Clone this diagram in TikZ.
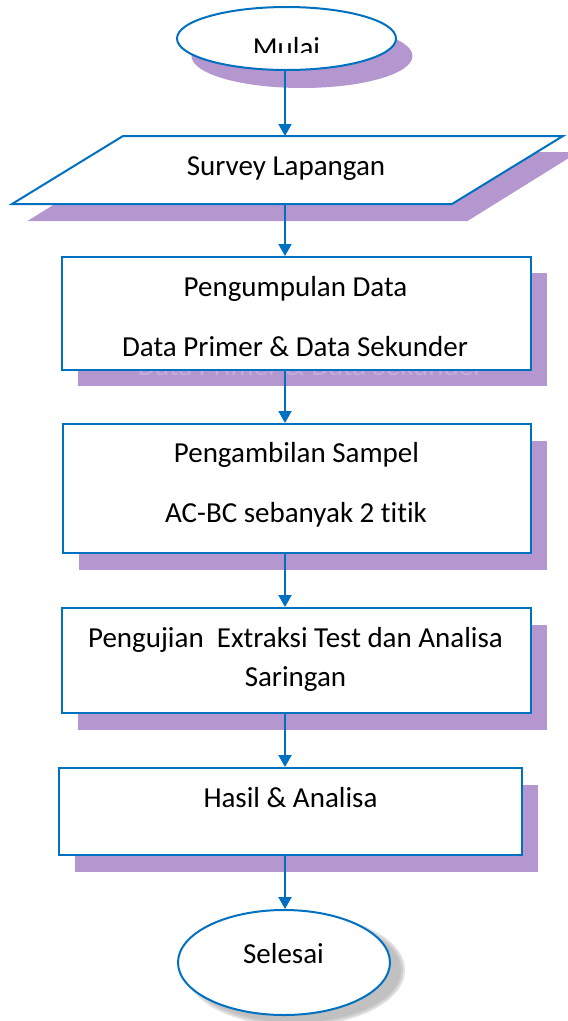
\documentclass[tikz,border=0pt]{standalone}
\usepackage{fontspec}
\setmainfont{Carlito}[Ligatures=NoCommon]
\usetikzlibrary{shapes.geometric,arrows.meta}
\definecolor{flowblue}{RGB}{0,112,192}
\definecolor{shadowpurple}{RGB}{180,151,207}
\definecolor{ghosttext}{RGB}{198,170,226}
\definecolor{softgray}{RGB}{165,165,165}
\tikzset{
  boxstyle/.style={rectangle, draw=flowblue, line width=2pt, fill=white, inner sep=0pt},
  ovalstyle/.style={ellipse, draw=flowblue, line width=2pt, fill=white, inner sep=0pt},
  shadowbox/.style={rectangle, fill=shadowpurple, draw=none, inner sep=0pt},
  txt/.style={font=\fontsize{29}{35}\selectfont, anchor=base, inner sep=0pt, text=black},
  arr/.style={draw=flowblue, line width=2pt, -{Triangle[width=13pt,length=12pt]}},
}
\begin{document}
\begin{tikzpicture}[x=1pt,y=-1pt]
\useasboundingbox (0,0) rectangle (568,1021);
\coordinate (axis) at (285,0);

% ---------- shadows ----------
\node[ellipse, fill=shadowpurple, inner sep=0pt, minimum width=221pt, minimum height=64pt] (mulaishadow) at (302,56) {};
\fill[shadowpurple] (138.5,152) -- (578.5,152) -- (467.5,221) -- (27.5,221) -- cycle;
\node[shadowbox, minimum width=469pt, minimum height=113pt] (box1shadow) at (312.5,329.5) {};
\begin{scope}
  \clip (60,371) rectangle (560,390);
  \node[txt, text=ghosttext] (ghost) at (310.5,375) {Data Primer \& Data Sekunder};
\end{scope}
\node[shadowbox, minimum width=468pt, minimum height=129pt] (box2shadow) at (313,505) {};
\node[shadowbox, minimum width=469pt, minimum height=105pt] (box3shadow) at (312.5,677) {};
\node[shadowbox, minimum width=463pt, minimum height=87pt] (box4shadow) at (306,828) {};
\foreach \d in {4,2,0}{
  \fill[softgray, opacity=0.33] (295,970) ellipse [x radius={106pt+\d pt}, y radius={52.5pt+\d pt}];
}

% ---------- shapes ----------
\node[ovalstyle, minimum width=219pt, minimum height=63pt] (mulai) at (286.5,38.5) {};
\begin{scope}
  \clip (150,0) rectangle (420,52);
  \node[txt] (mulaitext) at (286.5,57) {Mulai};
\end{scope}

\node[rectangle, draw=none, inner sep=0pt, outer sep=0pt, minimum width=440pt, minimum height=68pt] (survey) at (287.5,170) {};
\filldraw[draw=flowblue, fill=white, line width=2pt, line join=miter]
  ([xshift=55.5pt]survey.north west) -- ([xshift=55.5pt]survey.north east)
  -- ([xshift=-55.5pt]survey.south east) -- ([xshift=-55.5pt]survey.south west) -- cycle;
\node[txt] (surveytext) at (286,175) {Survey Lapangan};

\node[boxstyle, minimum width=469pt, minimum height=113pt] (box1) at (296.5,313.5) {};
\node[txt] (box1a) at (295.5,296) {Pengumpulan Data};
\node[txt] (box1b) at (295,356) {Data Primer \& Data Sekunder};

\node[boxstyle, minimum width=468pt, minimum height=129pt] (box2) at (297,488.5) {};
\node[txt] (box2a) at (296.5,462) {Pengambilan Sampel};
\node[txt] (box2b) at (296,522) {AC-BC sebanyak 2 titik};

\node[boxstyle, minimum width=469pt, minimum height=105pt] (box3) at (296.5,660.5) {};
\node[txt] (box3a) at (295.5,647) {Pengujian\ \ Extraksi Test dan Analisa};
\node[txt] (box3b) at (295.5,686) {Saringan};

\node[boxstyle, minimum width=463pt, minimum height=87pt] (box4) at (290.5,811.5) {};
\node[txt] (box4a) at (290.5,807) {Hasil \& Analisa};

\node[ovalstyle, minimum width=212pt, minimum height=105pt] (selesai) at (284,962.5) {};
\node[txt] (selesaitext) at (283.5,963) {Selesai};

% ---------- connectors ----------
\draw[arr] (mulai.south -| axis) -- (survey.north -| axis);
\draw[arr] (survey.south -| axis) -- (box1.north -| axis);
\draw[arr] (box1.south -| axis) -- (box2.north -| axis);
\draw[arr] (box2.south -| axis) -- (box3.north -| axis);
\draw[arr] (box3.south -| axis) -- (box4.north -| axis);
\draw[arr] (box4.south -| axis) -- (selesai.north -| axis);
\end{tikzpicture}
\end{document}
